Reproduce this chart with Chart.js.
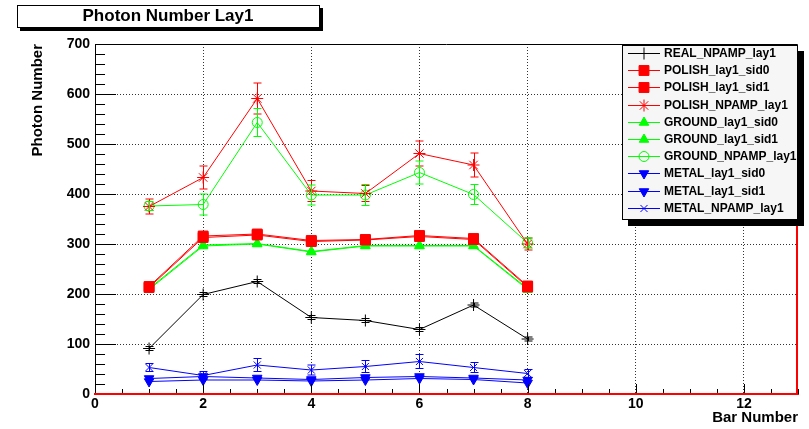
<!DOCTYPE html>
<html>
<head>
<meta charset="utf-8">
<script src="https://cdn.jsdelivr.net/npm/chart.js@4.4.1/dist/chart.umd.min.js"></script>
<style>
  html, body { margin: 0; padding: 0; background: #fff; }
  #chart { display: block; }
</style>
</head>
<body>
<canvas id="chart" width="809" height="429"></canvas>
<script>
// bar index along x
var bars = [1, 2, 3, 4, 5, 6, 7, 8];

var realNpamp      = [91, 199, 225, 153, 147, 129, 178, 110];
var realNpampErr   = [4, 4, 4, 4, 4, 4, 4, 4];
var polishSid0     = [215, 316, 320, 307, 309, 317, 311, 216];
var polishSid1     = [213, 313, 318, 305, 308, 315, 309, 214];
var polishNpamp    = [375, 433, 591, 406, 401, 481, 458, 300];
var polishNpampErr = [15, 23, 31, 21, 16, 25, 24, 12];
var groundSid0     = [211, 298, 301, 285, 297, 297, 297, 211];
var groundSid1     = [209, 296, 300, 284, 296, 296, 296, 209];
var groundNpamp    = [376, 379, 543, 398, 398, 443, 399, 302];
var groundNpampErr = [9, 21, 28, 20, 21, 23, 20, 10];
var metalSid0      = [25, 28, 28, 26, 28, 31, 29, 22];
var metalSid1      = [31, 35, 32, 29, 33, 35, 32, 28];
var metalNpamp     = [53, 37, 58, 48, 55, 65, 53, 41];
var metalNpampErr  = [8, 8, 13, 10, 12, 14, 10, 8];

var yTicks = [0, 100, 200, 300, 400, 500, 600, 700];
var xTicks = [0, 2, 4, 6, 8, 10, 12];

var FONT = "'Liberation Sans', Arial, Helvetica, sans-serif";

function pts(vals) {
    return bars.map(function(b, i) { return {x: b, y: vals[i]}; });
}

function series(label, vals, color, style, radius, rot, err) {
    return {
        label: label,
        data: pts(vals),
        errors: err || null,
        borderColor: color,
        backgroundColor: color,
        borderWidth: 1,
        pointStyle: style,
        pointRadius: radius,
        pointRotation: rot || 0,
        pointBorderColor: color,
        pointBackgroundColor: style === 'circle' ? 'rgba(0,0,0,0)' : color,
        pointBorderWidth: 1,
        tension: 0,
        fill: false
    };
}

var datasets = [
    series('REAL_NPAMP_lay1', realNpamp, '#000000', 'cross', 6, 0, realNpampErr),
    series('POLISH_lay1_sid0', polishSid0, '#ff0000', 'rect', 7),
    series('POLISH_lay1_sid1', polishSid1, '#ff0000', 'rect', 7),
    series('POLISH_NPAMP_lay1', polishNpamp, '#ff0000', 'star', 6, 0, polishNpampErr),
    series('GROUND_lay1_sid0', groundSid0, '#00ff00', 'triangle', 5.5),
    series('GROUND_lay1_sid1', groundSid1, '#00ff00', 'triangle', 5.5),
    series('GROUND_NPAMP_lay1', groundNpamp, '#00ff00', 'circle', 5, 0, groundNpampErr),
    series('METAL_lay1_sid0', metalSid0, '#0000ff', 'triangle', 5.5, 180),
    series('METAL_lay1_sid1', metalSid1, '#0000ff', 'triangle', 5.5, 180),
    series('METAL_NPAMP_lay1', metalNpamp, '#0000ff', 'crossRot', 5, 0, metalNpampErr)
];

// vertical error bars with small caps
var errorBars = {
    id: 'errorBars',
    afterDatasetsDraw: function(chart) {
        var ctx = chart.ctx, xs = chart.scales.x, ys = chart.scales.y;
        chart.data.datasets.forEach(function(ds) {
            if (!ds.errors) return;
            ctx.save();
            ctx.strokeStyle = ds.borderColor;
            ctx.lineWidth = 1;
            ds.data.forEach(function(p, j) {
                var e = ds.errors[j];
                var x = Math.round(xs.getPixelForValue(p.x)) + 0.5;
                var y1 = ys.getPixelForValue(p.y + e);
                var y2 = ys.getPixelForValue(p.y - e);
                ctx.beginPath();
                ctx.moveTo(x, y1); ctx.lineTo(x, y2);
                ctx.moveTo(x - 4, y1); ctx.lineTo(x + 4, y1);
                ctx.moveTo(x - 4, y2); ctx.lineTo(x + 4, y2);
                ctx.stroke();
            });
            ctx.restore();
        });
    }
};

// frame, ticks, title box and legend box in ROOT style
var decorations = {
    id: 'decorations',
    afterDraw: function(chart) {
        var ctx = chart.ctx, a = chart.chartArea;
        var xs = chart.scales.x, ys = chart.scales.y;
        ctx.save();

        // tick marks
        ctx.strokeStyle = '#000';
        ctx.lineWidth = 1;
        ctx.beginPath();
        for (var v = 20; v <= 700; v += 20) {
            var y = Math.round(ys.getPixelForValue(v)) + 0.5;
            var len = (v % 100 === 0) ? 21 : 10;
            ctx.moveTo(a.left, y); ctx.lineTo(a.left + len, y);
        }
        for (var u = 0; u <= 13; u += 0.5) {
            var x = Math.round(xs.getPixelForValue(u)) + 0.5;
            var l2 = (u % 2 === 0) ? 10 : 5;
            ctx.moveTo(x, a.bottom); ctx.lineTo(x, a.bottom - l2);
        }
        ctx.stroke();

        // frame
        ctx.beginPath();
        ctx.moveTo(a.left + 0.5, a.bottom);
        ctx.lineTo(a.left + 0.5, a.top + 0.5);
        ctx.lineTo(a.right - 0.5, a.top + 0.5);
        ctx.lineTo(a.right - 0.5, a.bottom);
        ctx.stroke();
        ctx.strokeStyle = '#ff0000';
        ctx.lineWidth = 2;
        ctx.beginPath();
        ctx.moveTo(a.left, a.bottom);
        ctx.lineTo(a.right - 1, a.bottom);
        ctx.lineTo(a.right - 1, a.top + 180);
        ctx.stroke();

        // title box
        ctx.fillStyle = '#000';
        ctx.fillRect(20, 8, 303, 23);
        ctx.fillStyle = '#fff';
        ctx.fillRect(17, 5, 303, 23);
        ctx.strokeStyle = '#000';
        ctx.lineWidth = 1;
        ctx.strokeRect(17.5, 5.5, 302, 22);
        ctx.fillStyle = '#000';
        ctx.font = 'bold 17px ' + FONT;
        ctx.textAlign = 'center';
        ctx.textBaseline = 'middle';
        ctx.fillText('Photon Number Lay1', 168, 16);

        // legend box
        var lx = 622, ly = 45, lw = 176, lh = 175;
        ctx.fillStyle = '#000';
        ctx.fillRect(lx + 6, ly + 6, lw, lh);
        ctx.fillStyle = '#f6f6f6';
        ctx.fillRect(lx, ly, lw, lh);
        ctx.strokeRect(lx + 0.5, ly + 0.5, lw - 1, lh - 1);

        ctx.font = 'bold 12px ' + FONT;
        ctx.textAlign = 'left';
        chart.data.datasets.forEach(function(ds, i) {
            var ry = Math.round(53 + i * 17.2) + 0.5;
            ctx.strokeStyle = ds.borderColor;
            ctx.fillStyle = ds.pointBackgroundColor;
            ctx.lineWidth = 1;
            ctx.beginPath();
            ctx.moveTo(628, ry); ctx.lineTo(660, ry);
            ctx.stroke();
            if (Chart.helpers && Chart.helpers.drawPoint) {
                Chart.helpers.drawPoint(ctx, {
                    pointStyle: ds.pointStyle,
                    radius: ds.pointRadius,
                    rotation: ds.pointRotation,
                    borderWidth: 1
                }, 644, ry);
            }
            ctx.fillStyle = '#000';
            ctx.fillText(ds.label, 664, ry);
        });
        ctx.restore();
    }
};

Chart.defaults.font.family = FONT;
Chart.defaults.color = '#000';

var chart = new Chart(document.getElementById('chart'), {
    type: 'line',
    data: { datasets: datasets },
    options: {
        responsive: false,
        animation: false,
        layout: { padding: { left: 0, top: 44, right: 11, bottom: 0 } },
        plugins: {
            legend: { display: false },
            title: { display: false },
            tooltip: { enabled: false }
        },
        scales: {
            x: {
                type: 'linear',
                min: 0,
                max: 13,
                afterFit: function(s) { s.height = 35; },
                afterBuildTicks: function(s) { s.ticks = xTicks.map(function(v) { return {value: v}; }); },
                grid: {
                    drawTicks: false,
                    color: function(c) { return c.tick && c.tick.value === 0 ? 'rgba(0,0,0,0)' : '#333'; }
                },
                border: { color: '#ff0000', width: 2, dash: [1, 2] },
                ticks: {
                    padding: 2,
                    font: { size: 14, weight: 'bold' },
                    callback: function(v) { return String(v); }
                },
                title: {
                    display: true,
                    text: 'Bar Number',
                    align: 'end',
                    font: { size: 15, weight: 'bold' },
                    padding: { top: 0, bottom: 2 }
                }
            },
            y: {
                min: 0,
                max: 700,
                afterFit: function(s) { s.width = 95; },
                afterBuildTicks: function(s) { s.ticks = yTicks.map(function(v) { return {value: v}; }); },
                grid: {
                    drawTicks: false,
                    color: function(c) { return c.tick && (c.tick.value === 0 || c.tick.value === 700) ? 'rgba(0,0,0,0)' : '#333'; }
                },
                border: { color: '#000', width: 1, dash: [1, 2] },
                ticks: {
                    padding: 5,
                    font: { size: 14, weight: 'bold' },
                    callback: function(v) { return String(v); }
                },
                title: {
                    display: true,
                    text: 'Photon Number',
                    align: 'end',
                    font: { size: 15, weight: 'bold' },
                    padding: { top: 29, bottom: 0 }
                }
            }
        }
    },
    plugins: [errorBars, decorations]
});
</script>
</body>
</html>
